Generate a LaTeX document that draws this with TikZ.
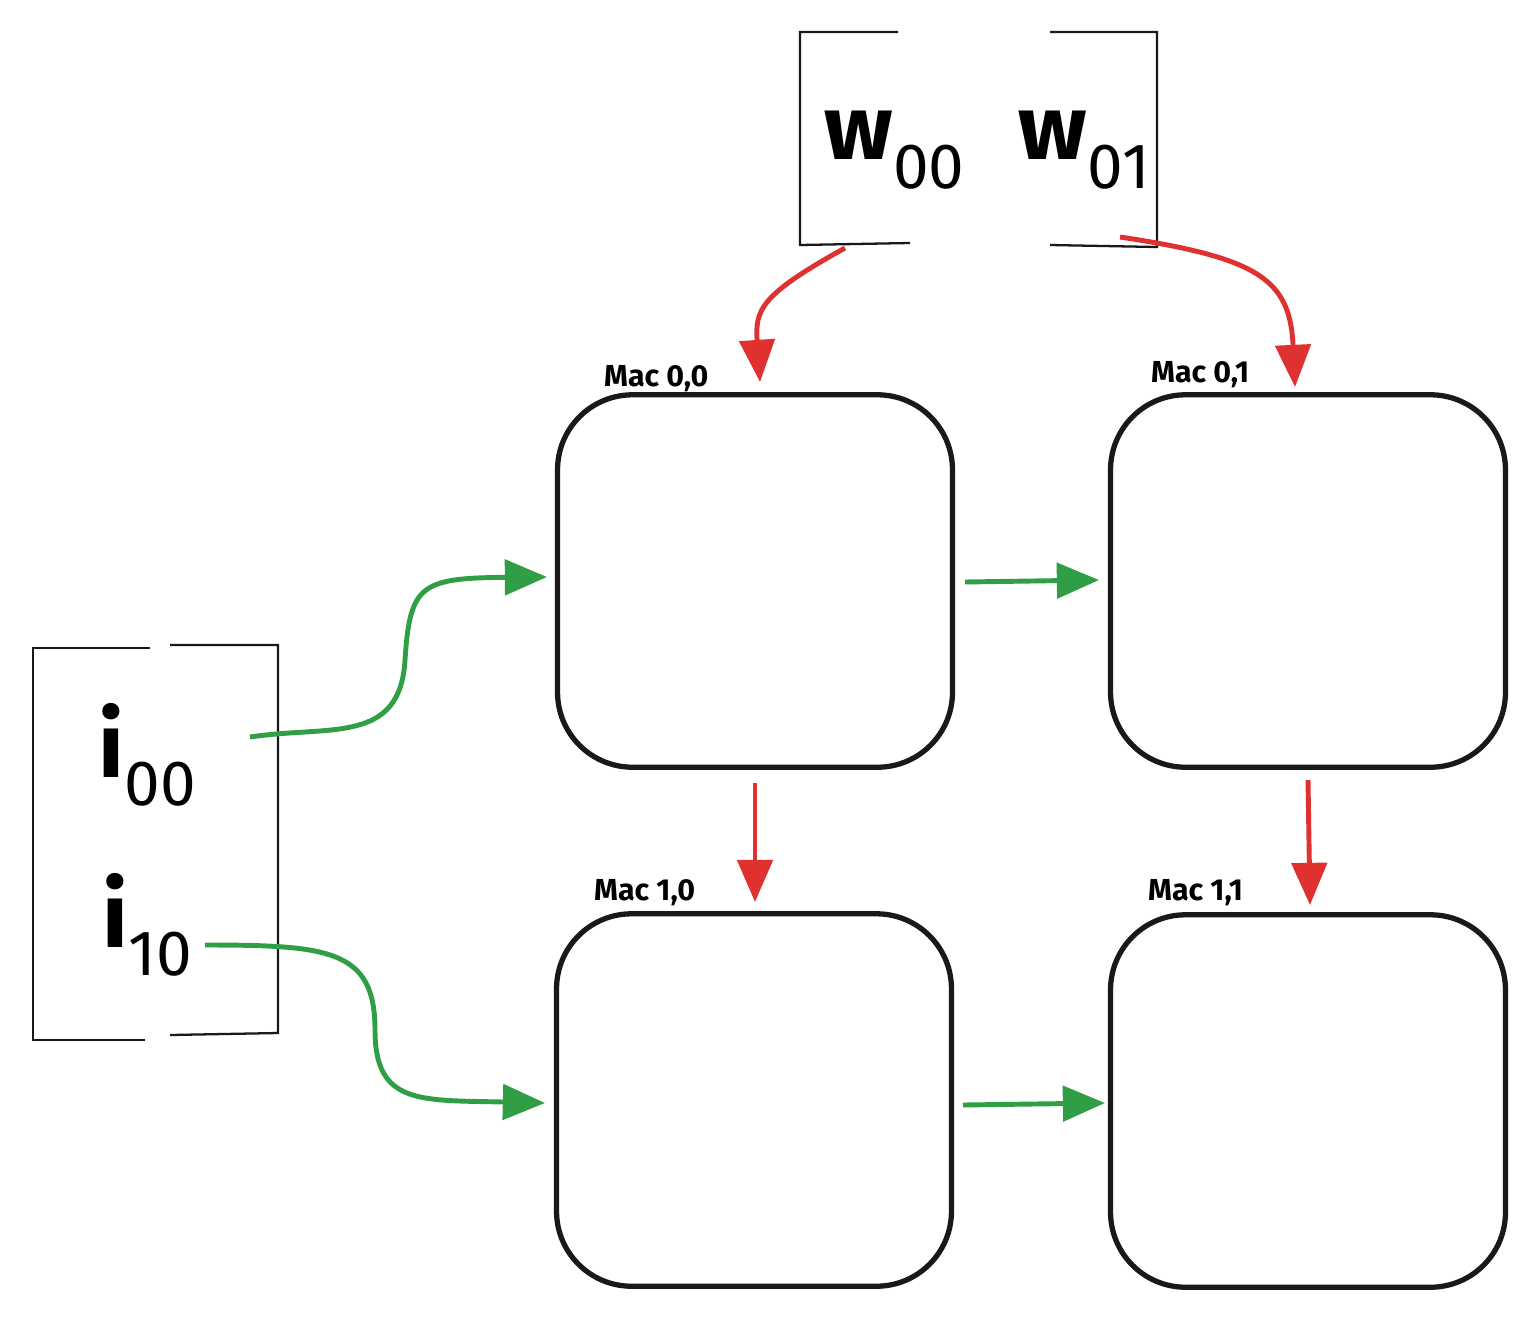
\documentclass[tikz,border=0pt]{standalone}
\usepackage{fontspec}
\setmainfont{Fira Sans}
\usetikzlibrary{arrows.meta}
\definecolor{myred}{HTML}{E03131}
\definecolor{mygreen}{HTML}{2F9E44}
\begin{document}
\begin{tikzpicture}[x=0.02cm,y=-0.02cm,
  mac/.style={draw=black!90,line width=3pt,rounded corners=1.5cm,minimum width=7.9cm,minimum height=7.45cm,inner sep=0pt},
  lab/.style={font=\LARGE\bfseries,anchor=base west},
  brk/.style={line width=1.3pt,black!90},
  ra/.style={myred,line width=2.8pt,-{Triangle[length=24pt,width=20pt]}},
  ga/.style={mygreen,line width=2.8pt,-{Triangle[length=24pt,width=20pt]}},
  big/.style={font=\fontsize{52}{52}\selectfont\bfseries}]
\useasboundingbox (0,0) rectangle (1535,1316);
\node[mac] (m00) at (755,581) {};
\node[mac] (m01) at (1308,581) {};
\node[mac] (m10) at (754,1100) {};
\node[mac] (m11) at (1308,1101) {};
\node[lab] (l00) at (598,386) {Mac 0,0};
\node[lab] (l01) at (1145,382) {Mac 0,1};
\node[lab] (l10) at (588,900) {Mac 1,0};
\node[lab] (l11) at (1142,900) {Mac 1,1};
\draw[brk] (898,32) -- (800,32) -- (800,245) -- (910,243);
\draw[brk] (1050,32) -- (1157,32) -- (1157,247) -- (1050,245);
\draw[brk] (150,648) -- (33,648) -- (33,1040) -- (145,1040);
\draw[brk] (170,645) -- (278,645) -- (278,1033) -- (170,1035);
\node[big] (w0) at (895,150) {w$_{\mathrm{00}}$};
\node[big] (w1) at (1085,150) {w$_{\mathrm{01}}$};
\node[big] (i0) at (148,755) {i$_{\mathrm{00}}$};
\node[big] (i1) at (148,925) {i$_{\mathrm{10}}$};
\coordinate (a1) at (845,248);
\coordinate (a2) at (1120,237);
\coordinate (g1) at (250,737);
\coordinate (g2) at (205,945);
\draw[ra] (a1) .. controls (760,295) and (755,310) .. (760,382);
\draw[ra] (a2) .. controls (1260,258) and (1290,280) .. (1295,387);
\draw[ra] (755,783) -- (755,902);
\draw[ra] (1308,780) -- (1310,905);
\draw[ga] (g1) .. controls (330,725) and (400,745) .. (405,660) .. controls (410,585) and (420,578) .. (547,577);
\draw[ga] (965,582) -- (1099,580);
\draw[ga] (g2) .. controls (330,945) and (375,950) .. (375,1030) .. controls (375,1105) and (420,1100) .. (545,1103);
\draw[ga] (963,1105) -- (1105,1103);
\end{tikzpicture}
\end{document}
